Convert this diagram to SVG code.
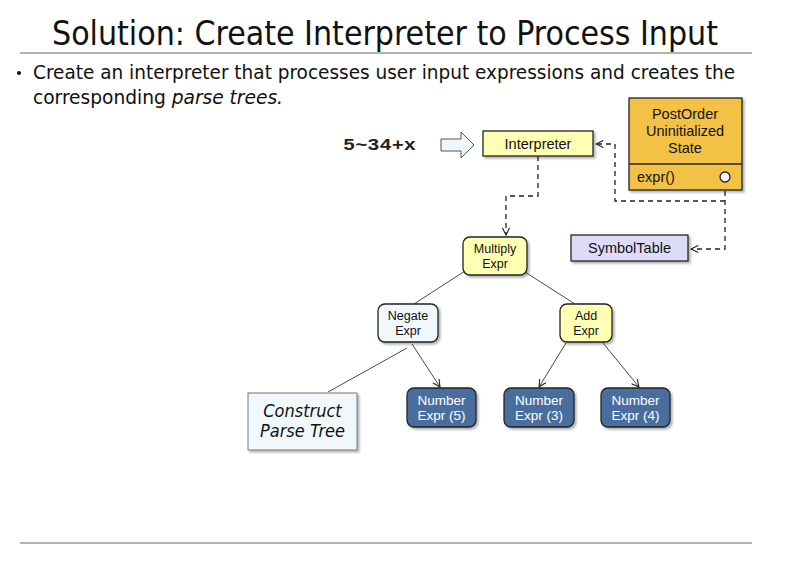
<svg xmlns="http://www.w3.org/2000/svg" width="800" height="578" viewBox="0 0 800 578">
<style>
.hd{font-family:"DejaVu Sans Condensed","DejaVu Sans",sans-serif;fill:#111}
.nt{font-family:"Liberation Sans",Arial,sans-serif;font-size:13px;fill:#111;text-anchor:middle}
.sm{font-size:12.5px}
.lg{font-size:14.5px}
.st{text-anchor:start}
.wt{fill:#fff;font-size:13.5px}
.box{stroke:#222;stroke-width:1.3}
.dash{fill:none;stroke:#222;stroke-width:1.3;stroke-dasharray:5,4}
.ln{fill:none;stroke:#333;stroke-width:0.9}
.rule{stroke:#666;stroke-width:1}
</style>
<defs>
<filter id="sh" x="-10%" y="-10%" width="130%" height="140%">
<feDropShadow dx="2" dy="2" stdDeviation="1.2" flood-color="#000" flood-opacity="0.3"/>
</filter>
<marker id="oa" viewBox="0 0 10 10" refX="9" refY="5" markerWidth="9" markerHeight="9" orient="auto" markerUnits="userSpaceOnUse">
<path d="M1,1 L9,5 L1,9" fill="none" stroke="#222" stroke-width="1.2"/>
</marker>
</defs>
<rect width="800" height="578" fill="#fff"/>
<text class="hd" x="52" y="45" font-size="34" textLength="666" lengthAdjust="spacingAndGlyphs">Solution: Create Interpreter to Process Input</text>
<line class="rule" x1="20" y1="53" x2="752" y2="53"/>
<circle cx="19" cy="73" r="2" fill="#111"/>
<text class="hd" x="33" y="79" font-size="20" textLength="702" lengthAdjust="spacingAndGlyphs">Create an interpreter that processes user input expressions and creates the</text>
<text class="hd" x="33" y="104" font-size="20" textLength="250" lengthAdjust="spacingAndGlyphs">corresponding <tspan font-style="italic">parse trees.</tspan></text>
<line class="rule" x1="20" y1="543" x2="752" y2="543"/>

<g id="input">
<text x="343" y="150" font-family="'Liberation Mono','DejaVu Sans Mono',monospace" font-weight="bold" font-size="17" fill="#222" textLength="73" lengthAdjust="spacingAndGlyphs">5~34+x</text>
<path d="M441,139 H461 V132 L474,145 L461,158 V151 H441 Z" fill="#eef8fc" stroke="#555" stroke-width="1"/>
</g>

<g id="connectors">
<path class="dash" d="M538,156 V196 H506 V235" marker-end="url(#oa)"/>
<path class="dash" d="M725,182 V249 H691" marker-end="url(#oa)"/>
<path class="dash" d="M725,201 H615 V144 H596" marker-end="url(#oa)"/>
<line class="ln" x1="465" y1="271" x2="414" y2="304"/>
<line class="ln" x1="525" y1="272" x2="575" y2="304"/>
<line class="ln" x1="412" y1="344" x2="440" y2="387" marker-end="url(#oa)"/>
<line class="ln" x1="407" y1="348" x2="328" y2="392"/>
<line class="ln" x1="566" y1="343" x2="539" y2="387" marker-end="url(#oa)"/>
<line class="ln" x1="603" y1="343" x2="639" y2="387" marker-end="url(#oa)"/>
</g>

<g id="interpreter">
<rect class="box" x="483" y="131" width="110" height="25" fill="#ffffb4" filter="url(#sh)"/>
<text class="nt lg" x="538" y="149">Interpreter</text>
</g>

<g id="postorder">
<rect class="box" x="629" y="98" width="113" height="92" fill="#f2c144" filter="url(#sh)"/>
<line class="box" x1="629" y1="164" x2="742" y2="164"/>
<text class="nt lg" x="685" y="119">PostOrder</text>
<text class="nt lg" x="685" y="136">Uninitialized</text>
<text class="nt lg" x="685" y="153">State</text>
<text class="nt lg st" x="637" y="182">expr()</text>
<circle cx="725" cy="177" r="5" fill="#fff" stroke="#222" stroke-width="1.3"/>
</g>

<g id="symboltable">
<rect class="box" x="571" y="235" width="117" height="26" fill="#dcdcf8" filter="url(#sh)"/>
<text class="nt lg" x="629.5" y="253">SymbolTable</text>
</g>

<g id="multiply">
<rect class="box" x="463" y="237" width="64" height="38" rx="7" fill="#ffffb4" filter="url(#sh)"/>
<text class="nt sm" x="495" y="253">Multiply</text>
<text class="nt sm" x="495" y="268">Expr</text>
</g>

<g id="negate">
<rect class="box" x="378" y="304" width="60" height="38" rx="7" fill="#f0f8fc" filter="url(#sh)"/>
<text class="nt sm" x="408" y="320">Negate</text>
<text class="nt sm" x="408" y="335">Expr</text>
</g>

<g id="add">
<rect class="box" x="560" y="304" width="52" height="38" rx="7" fill="#ffffb4" filter="url(#sh)"/>
<text class="nt sm" x="586" y="320">Add</text>
<text class="nt sm" x="586" y="335">Expr</text>
</g>

<g id="num5">
<rect class="box" x="407" y="388" width="69" height="39" rx="7" fill="#4a6e9e" filter="url(#sh)"/>
<text class="nt wt" x="441.5" y="405">Number</text>
<text class="nt wt" x="441.5" y="420">Expr (5)</text>
</g>

<g id="num3">
<rect class="box" x="504" y="388" width="70" height="39" rx="7" fill="#4a6e9e" filter="url(#sh)"/>
<text class="nt wt" x="539" y="405">Number</text>
<text class="nt wt" x="539" y="420">Expr (3)</text>
</g>

<g id="num4">
<rect class="box" x="601" y="388" width="69" height="39" rx="7" fill="#4a6e9e" filter="url(#sh)"/>
<text class="nt wt" x="635.5" y="405">Number</text>
<text class="nt wt" x="635.5" y="420">Expr (4)</text>
</g>

<g id="construct">
<rect x="248" y="393" width="109" height="57" fill="#f0f8fc" stroke="#777" stroke-width="1" filter="url(#sh)"/>
<text class="hd" x="302.5" y="417" font-size="18" font-style="italic" text-anchor="middle">Construct</text>
<text class="hd" x="302.5" y="437" font-size="18" font-style="italic" text-anchor="middle">Parse Tree</text>
</g>
</svg>
